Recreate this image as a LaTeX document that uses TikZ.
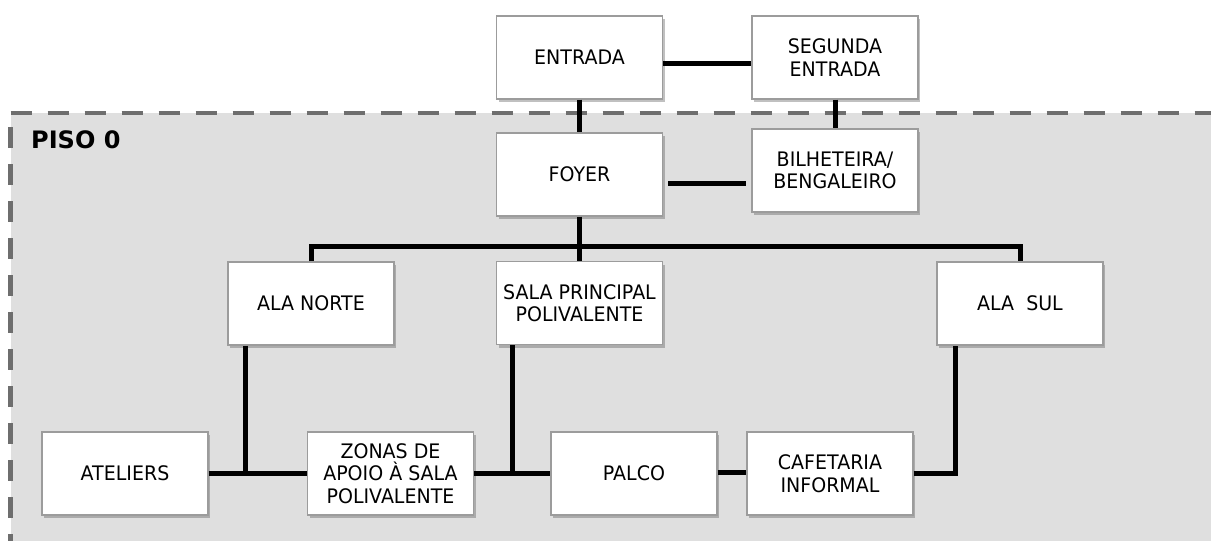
\documentclass[tikz,border=0pt]{standalone}
\usepackage{fontspec}
\setmainfont{DejaVu Sans}
\newfontfamily\boxfont{DejaVu Sans}[FakeStretch=0.95]
\usetikzlibrary{shadows}
\definecolor{zonefill}{HTML}{DFDFDF}
\definecolor{dashgray}{HTML}{6E6E6E}
\definecolor{boxborder}{HTML}{9C9C9C}
\tikzset{
  roombox/.style={draw=boxborder, line width=1.2pt, fill=white,
    minimum width=166pt, minimum height=83pt, inner sep=0pt, align=center,
    font=\boxfont\fontsize{20}{22.5}\selectfont,
    drop shadow={shadow xshift=2pt, shadow yshift=-3pt, opacity=0.35, fill=black!70}},
  link/.style={line width=5pt, black},
  zoneborder/.style={line width=4.5pt, dashgray, dash pattern=on 21pt off 16pt}
}
\begin{document}
\begin{tikzpicture}[x=1pt,y=-1pt]
\useasboundingbox (0,0) rectangle (1211,541);
\fill[white] (0,0) rectangle (1211,541);
% zone
\fill[zonefill] (10.5,113) rectangle (1211,541);
\draw[zoneborder] (10.5,113) -- (1211,113);
\draw[zoneborder, dash phase=23pt] (10.5,113) -- (10.5,541);
\node[font=\bfseries\fontsize{24}{28}\selectfont, anchor=base west, inner sep=0pt] (piso) at (31,148) {PISO 0};
% nodes
\node[roombox] (ent) at (579.5,57.5) {ENTRADA};
\node[roombox] (seg) at (835,57.5) {SEGUNDA\\ENTRADA};
\node[roombox] (foyer) at (579.5,174.5) {FOYER};
\node[roombox] (bilh) at (835,170.5) {BILHETEIRA/\\BENGALEIRO};
\node[roombox] (norte) at (311,303.5) {ALA NORTE};
\node[roombox] (sala) at (579.5,303) {SALA PRINCIPAL\\POLIVALENTE};
\node[roombox] (sul) at (1020,303.5) {ALA\ \ SUL};
\node[roombox] (atel) at (125,473.5) {ATELIERS};
\node[roombox] (zonas) at (390.5,473.5) {ZONAS DE\\APOIO À SALA\\POLIVALENTE};
\node[roombox] (palco) at (634,473.5) {PALCO};
\node[roombox] (caf) at (830,473.5) {CAFETARIA\\INFORMAL};
\coordinate (bus) at (579.5,246);
% connectors
\draw[link] ([yshift=-6pt]ent.east) -- ([yshift=-6pt]ent.east -| seg.west);
\draw[link] (ent.south) -- (foyer.north);
\draw[link] (seg.south) -- (bilh.north);
\draw[link, shorten <=5pt, shorten >=5pt] ([yshift=-8.5pt]foyer.east) -- ([yshift=-8.5pt]foyer.east -| bilh.west);
\draw[link] (foyer.south) -- (sala.north);
\draw[link] (norte.north) |- (bus) -| (sul.north);
\draw[link] (atel.east) -- (zonas.west);
\draw[link] ([xshift=-66pt]norte.south) -- ([xshift=-66pt]norte.south |- atel.east);
\draw[link] (zonas.east) -- (palco.west);
\draw[link] ([xshift=-67pt]sala.south) -- ([xshift=-67pt]sala.south |- zonas.east);
\draw[link] ([yshift=1.5pt]palco.east) -- ([yshift=1.5pt]caf.west);
\draw[link] (caf.east) -| ([xshift=-65pt]sul.south);
\end{tikzpicture}
\end{document}
